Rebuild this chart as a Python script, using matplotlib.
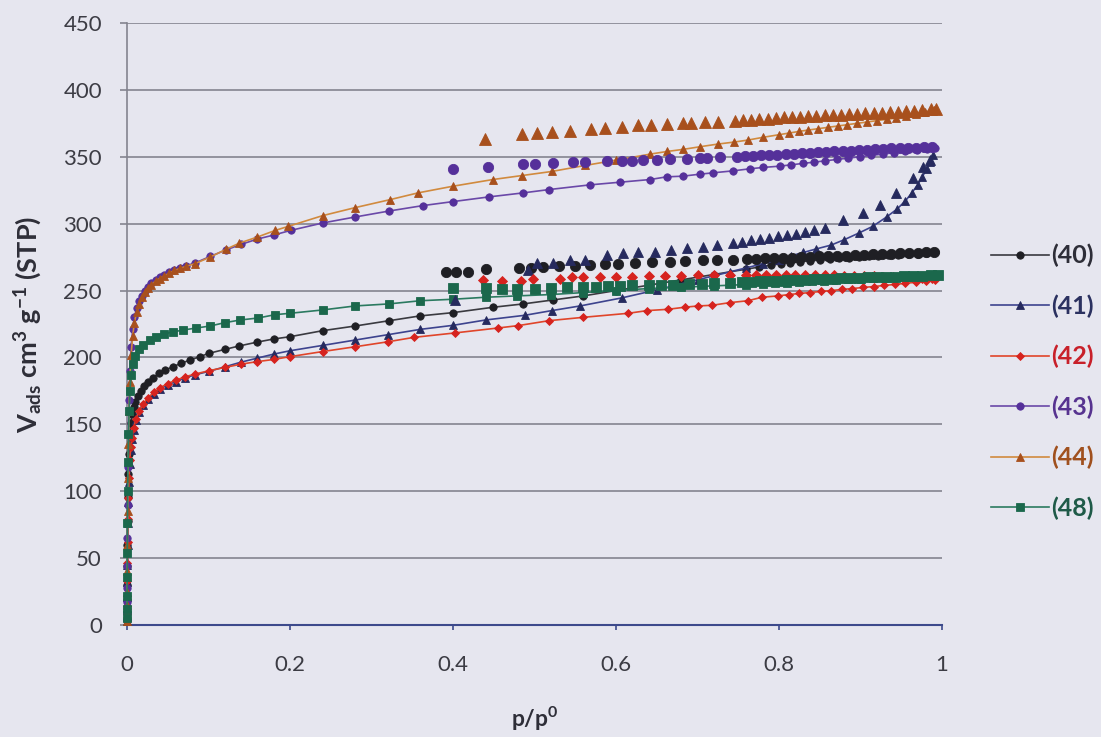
import matplotlib
matplotlib.use("Agg")
import matplotlib.pyplot as plt

plt.rcParams['font.family'] = ['Lato', 'DejaVu Sans']
plt.rcParams['mathtext.fontset'] = 'custom'
plt.rcParams['mathtext.rm'] = 'Lato:bold'
plt.rcParams['mathtext.it'] = 'Lato:bold'
plt.rcParams['mathtext.bf'] = 'Lato:bold'

# ---- N2 isotherms: relative pressure p/p0 and adsorbed volume (cm3 g-1 STP) ----
labels = ['(40)', '(41)', '(42)', '(43)', '(44)', '(48)']

# (40) adsorption / desorption
p40_ads = [0.00003, 0.00008, 0.00015, 0.00025, 0.0004, 0.0006, 0.0009, 0.0013, 0.0018, 0.0025,
           0.0034, 0.0046, 0.006, 0.008, 0.010, 0.013, 0.017, 0.021, 0.026, 0.032,
           0.039, 0.047, 0.056, 0.066, 0.077, 0.089, 0.100, 0.120, 0.137, 0.160,
           0.180, 0.200, 0.240, 0.280, 0.322, 0.359, 0.400, 0.449, 0.486, 0.523,
           0.560, 0.600, 0.640, 0.680, 0.720, 0.760, 0.775, 0.790, 0.802, 0.814,
           0.826, 0.838, 0.850, 0.862, 0.874, 0.886, 0.898, 0.910, 0.922, 0.934,
           0.946, 0.958, 0.970, 0.981, 0.991]
v40_ads = [4, 10, 19, 30, 44, 60, 78, 96, 113, 128,
           141, 151, 158, 163, 167, 171, 175, 178.5, 182, 185,
           188, 190.5, 193, 195.5, 198, 200.5, 203, 206, 208.5, 211.5,
           213.8, 215.5, 220, 223.5, 227.5, 231, 233.5, 237.5, 240, 243,
           246, 250, 254, 258, 262, 266, 267.5, 269, 270, 270.8,
           271.5, 272.2, 272.8, 273.4, 274, 274.5, 275, 275.5, 276, 276.4,
           276.8, 277.2, 277.6, 278, 278.5]
p40_des = [0.392, 0.404, 0.419, 0.441, 0.481, 0.496, 0.510, 0.530, 0.550, 0.568,
           0.587, 0.602, 0.623, 0.644, 0.666, 0.685, 0.707, 0.724, 0.744, 0.761,
           0.772, 0.783, 0.794, 0.805, 0.816, 0.827, 0.838, 0.849, 0.860, 0.871,
           0.882, 0.893, 0.904, 0.915, 0.926, 0.937, 0.948, 0.959, 0.970, 0.980, 0.990]
v40_des = [263.5, 263.5, 264, 266, 267, 267, 267.5, 268, 268.5, 269,
           270, 270, 270.5, 271, 271.5, 272, 272.5, 272.5, 273, 273.5,
           273.7, 274, 274.2, 274.5, 274.7, 275, 275.2, 275.5, 275.7, 276,
           276.2, 276.5, 276.7, 277, 277.2, 277.5, 277.7, 278, 278.3, 278.6, 279]

# (41)
p41_ads = [0.00003, 0.00008, 0.00015, 0.00025, 0.0004, 0.0006, 0.0009, 0.0013, 0.0018, 0.0025,
           0.0034, 0.0046, 0.006, 0.008, 0.011, 0.015, 0.020, 0.026, 0.033, 0.041,
           0.050, 0.060, 0.071, 0.083, 0.100, 0.120, 0.140, 0.160, 0.180, 0.200,
           0.240, 0.280, 0.320, 0.360, 0.400, 0.440, 0.488, 0.521, 0.556, 0.607,
           0.650, 0.700, 0.740, 0.760, 0.780, 0.800, 0.815, 0.830, 0.845, 0.864,
           0.880, 0.898, 0.915, 0.932, 0.945, 0.955, 0.963, 0.970, 0.976, 0.981,
           0.985, 0.989]
v41_ads = [3, 7, 13, 21, 32, 45, 60, 76, 92, 107,
           120, 131, 139, 146, 153, 159, 164.5, 169, 173, 176.5,
           179.5, 182, 184.5, 187, 189.5, 193, 196.5, 199.5, 202.5, 205,
           209, 213, 217, 221, 224, 228, 231.5, 235, 238.5, 244.5,
           250.5, 258, 264, 267, 270, 273, 276, 278.5, 281, 284,
           288, 293, 298, 305, 311, 317, 323, 329, 335, 341,
           346, 351]
p41_des = [0.403, 0.492, 0.503, 0.523, 0.544, 0.562, 0.589, 0.609, 0.627, 0.648,
           0.668, 0.687, 0.707, 0.724, 0.744, 0.755, 0.766, 0.777, 0.788, 0.799,
           0.810, 0.821, 0.832, 0.843, 0.856, 0.879, 0.903, 0.924, 0.944, 0.965,
           0.977, 0.985]
v41_des = [243, 265.5, 270.5, 270.5, 272.5, 273, 276.5, 278, 278.5, 279,
           280, 281.5, 282.5, 284, 285.5, 286.5, 287.5, 288.5, 289.5, 290.5,
           291.5, 292.5, 293.5, 295, 297, 303, 308, 314, 323, 334,
           342.5, 347.5]

# (42)
p42_ads = [0.00003, 0.00008, 0.00015, 0.00025, 0.0004, 0.0006, 0.0009, 0.0013, 0.0018, 0.0025,
           0.0034, 0.0046, 0.006, 0.008, 0.011, 0.015, 0.020, 0.026, 0.033, 0.041,
           0.050, 0.060, 0.071, 0.083, 0.100, 0.120, 0.140, 0.159, 0.180, 0.200,
           0.240, 0.280, 0.320, 0.352, 0.402, 0.455, 0.480, 0.518, 0.560, 0.615,
           0.638, 0.664, 0.685, 0.701, 0.718, 0.740, 0.762, 0.779, 0.799, 0.812,
           0.825, 0.838, 0.851, 0.864, 0.877, 0.890, 0.903, 0.916, 0.929, 0.942,
           0.955, 0.968, 0.980, 0.991]
v42_ads = [3, 8, 14, 22, 33, 46, 62, 79, 95, 110,
           123, 133, 140, 147, 154, 160, 165.5, 170, 174, 177.5,
           180.5, 183, 185.5, 187.5, 190, 192.5, 195, 196.8, 198.5, 200.6,
           204.4, 208, 211.7, 215, 218.3, 222, 223.8, 227.5, 230, 233,
           235, 236, 237.6, 238.5, 239, 241, 242.4, 245, 246, 247,
           247.8, 248.5, 249.3, 250, 250.8, 251.5, 252.3, 253, 253.8, 254.6,
           255.4, 256.2, 257, 258]
p42_des = [0.437, 0.460, 0.484, 0.498, 0.531, 0.546, 0.560, 0.580, 0.600, 0.620,
           0.640, 0.660, 0.680, 0.700, 0.720, 0.740, 0.760, 0.772, 0.784, 0.796,
           0.808, 0.820, 0.832, 0.844, 0.856, 0.868, 0.880, 0.892, 0.904, 0.916,
           0.928, 0.940, 0.952, 0.964, 0.976, 0.988]
v42_des = [258, 257, 257, 258.5, 258.5, 260, 260, 260, 260.5, 260.5,
           261, 261, 261, 261.5, 261.5, 262, 262, 262, 262, 262,
           262, 262, 262, 261.8, 261.6, 261.4, 261.2, 261, 260.8, 260.6,
           260.4, 260.2, 260, 259.8, 259.6, 259.4]

# (43)
p43_ads = [0.00002, 0.00005, 0.0001, 0.0002, 0.0003, 0.0005, 0.0008, 0.0012, 0.0017, 0.0025,
           0.0035, 0.005, 0.007, 0.009, 0.012, 0.015, 0.018, 0.022, 0.026, 0.030,
           0.035, 0.040, 0.046, 0.052, 0.058, 0.065, 0.072, 0.083, 0.102, 0.122,
           0.140, 0.160, 0.180, 0.201, 0.240, 0.280, 0.322, 0.363, 0.400, 0.444,
           0.486, 0.518, 0.568, 0.605, 0.642, 0.662, 0.682, 0.703, 0.719, 0.744,
           0.764, 0.780, 0.801, 0.815, 0.829, 0.843, 0.857, 0.871, 0.885, 0.899,
           0.913, 0.927, 0.941, 0.955, 0.969, 0.981, 0.991]
v43_ads = [4, 9, 17, 28, 44, 65, 90, 118, 143, 168,
           190, 208, 221, 230, 237, 242, 246, 250, 253, 255.5,
           258, 260, 262, 264, 265.5, 267, 268.5, 270.5, 275.5, 280.5,
           284.5, 288.5, 291.5, 295, 300.5, 305, 309.5, 313.5, 316.5, 320,
           323, 325.5, 329, 331, 333, 335, 335.5, 337, 338, 339.5,
           341, 342, 343, 344, 345, 346, 347, 348, 349, 350,
           351, 352, 353, 354, 355, 355.5, 356.5]
p43_des = [0.400, 0.443, 0.486, 0.500, 0.523, 0.547, 0.562, 0.589, 0.607, 0.620,
           0.633, 0.650, 0.666, 0.687, 0.703, 0.712, 0.728, 0.748, 0.758, 0.768,
           0.778, 0.788, 0.798, 0.808, 0.818, 0.828, 0.838, 0.848, 0.858, 0.868,
           0.878, 0.888, 0.898, 0.908, 0.918, 0.928, 0.938, 0.948, 0.958, 0.968,
           0.978, 0.988]
v43_des = [340.5, 342.5, 344.5, 344.5, 345, 346, 346, 346.5, 347, 347,
           347.5, 347.5, 348, 348, 349, 349, 350, 350, 350.3, 350.6,
           351, 351.3, 351.6, 352, 352.3, 352.6, 353, 353.3, 353.6, 354,
           354.3, 354.6, 355, 355.3, 355.6, 356, 356.2, 356.4, 356.6, 356.8,
           357, 357.3]

# (44)
p44_ads = [0.00002, 0.00005, 0.0001, 0.0002, 0.0003, 0.0005, 0.0008, 0.0012, 0.0017, 0.0025,
           0.0035, 0.005, 0.007, 0.009, 0.012, 0.015, 0.018, 0.022, 0.026, 0.030,
           0.035, 0.040, 0.046, 0.052, 0.058, 0.065, 0.072, 0.083, 0.102, 0.122,
           0.138, 0.160, 0.182, 0.198, 0.240, 0.280, 0.323, 0.357, 0.400, 0.449,
           0.485, 0.521, 0.562, 0.600, 0.642, 0.663, 0.682, 0.703, 0.725, 0.745,
           0.762, 0.780, 0.800, 0.812, 0.824, 0.836, 0.848, 0.860, 0.872, 0.884,
           0.896, 0.908, 0.920, 0.932, 0.944, 0.956, 0.968, 0.979, 0.990]
v44_ads = [3, 8, 15, 25, 40, 60, 85, 110, 135, 160,
           182, 202, 216, 226, 234, 240, 245, 249, 252, 254.5,
           257, 259, 261, 263, 265, 266.5, 268, 270, 275, 281,
           285.5, 290, 295, 298, 306, 312, 318, 323, 328, 333,
           336, 339, 343.5, 347.5, 352, 354, 355.5, 357.5, 359.5, 361,
           362.5, 364.5, 366.5, 367.7, 368.9, 370, 371, 372, 373, 374,
           375, 376, 377, 378, 379, 380.5, 382, 383.5, 385]
p44_des = [0.439, 0.485, 0.503, 0.522, 0.544, 0.569, 0.587, 0.607, 0.627, 0.643,
           0.663, 0.682, 0.692, 0.709, 0.725, 0.746, 0.756, 0.766, 0.776, 0.786,
           0.796, 0.806, 0.816, 0.826, 0.836, 0.846, 0.856, 0.866, 0.876, 0.886,
           0.896, 0.906, 0.916, 0.926, 0.936, 0.946, 0.956, 0.966, 0.976, 0.986, 0.993]
v44_des = [363, 367, 367.5, 368.5, 369, 370.5, 371.5, 372.5, 374, 374,
           374.5, 375.5, 375.5, 376, 376, 377, 377.4, 377.8, 378.2, 378.6,
           379, 379.4, 379.7, 380, 380.3, 380.6, 380.9, 381.2, 381.5, 381.8,
           382.1, 382.4, 382.7, 383, 383.3, 383.6, 384, 384.4, 384.9, 385.5, 386]

# (48)
p48_ads = [0.00002, 0.00005, 0.0001, 0.0002, 0.0003, 0.0005, 0.0008, 0.0012, 0.0018, 0.0026,
           0.0036, 0.005, 0.007, 0.010, 0.015, 0.020, 0.028, 0.036, 0.045, 0.056,
           0.069, 0.085, 0.102, 0.120, 0.139, 0.161, 0.182, 0.200, 0.240, 0.280,
           0.321, 0.360, 0.400, 0.440, 0.478, 0.520, 0.560, 0.600, 0.640, 0.680,
           0.720, 0.760, 0.780, 0.795, 0.810, 0.825, 0.840, 0.855, 0.870, 0.885,
           0.900, 0.915, 0.930, 0.945, 0.960, 0.975, 0.990]
v48_ads = [5, 12, 22, 36, 54, 76, 100, 122, 143, 160,
           175, 187, 195, 201, 206, 209.5, 213, 215.5, 217.5, 219,
           220.5, 222, 223.5, 226, 228, 229.5, 232, 233, 235.5, 238.5,
           240, 242.4, 243.5, 245, 246, 247, 248.5, 250, 251.5, 252.5,
           253.5, 254.5, 255, 255.5, 256, 256.5, 257, 257.5, 258, 258.5,
           259, 259.3, 259.6, 260, 260.3, 260.6, 261]
p48_des = [0.400, 0.440, 0.460, 0.478, 0.500, 0.520, 0.540, 0.560, 0.575, 0.590,
           0.605, 0.620, 0.640, 0.655, 0.670, 0.690, 0.705, 0.720, 0.740, 0.755,
           0.766, 0.777, 0.788, 0.799, 0.810, 0.821, 0.832, 0.843, 0.854, 0.865,
           0.876, 0.887, 0.898, 0.909, 0.920, 0.931, 0.942, 0.953, 0.964, 0.975,
           0.986, 0.995]
v48_des = [252, 252, 251.5, 251, 251.5, 252, 252.5, 253, 253, 253.5,
           253.5, 254, 254, 254.5, 254.5, 255, 255, 255.5, 256, 256.3,
           256.6, 256.9, 257.2, 257.5, 257.8, 258, 258.2, 258.5, 258.7, 259,
           259.2, 259.4, 259.6, 259.8, 260, 260.2, 260.4, 260.6, 260.8, 261,
           261.3, 261.6]

ads_sets = [(p40_ads, v40_ads), (p41_ads, v41_ads), (p42_ads, v42_ads),
            (p43_ads, v43_ads), (p44_ads, v44_ads), (p48_ads, v48_ads)]
des_sets = [(p40_des, v40_des), (p41_des, v41_des), (p42_des, v42_des),
            (p43_des, v43_des), (p44_des, v44_des), (p48_des, v48_des)]

# ---- styling ----
bg = '#e6e6ef'
line_colors = ['#3a3a40', '#3d438e', '#e0452a', '#6a48a8', '#d18a3e', '#2b7a60']
marker_colors = ['#1f1f24', '#262a5e', '#d6231f', '#55309a', '#a8501d', '#1b684c']
text_colors = ['#2e2e38', '#2b3160', '#c8202a', '#573390', '#a0501e', '#1f5a48']
markers = ['o', '^', 'D', 'o', '^', 's']
ads_ms = [5.3, 6.0, 3.6, 5.3, 6.2, 5.2]
des_ms = [7.4, 7.8, 4.6, 7.4, 8.0, 7.2]

fig = plt.figure(figsize=(11.01, 7.37), dpi=100, facecolor=bg)
ax = fig.add_axes([127 / 1101, 1 - 625 / 737, 815 / 1101, 602 / 737])
ax.set_facecolor(bg)

handles = []
for (p, v), lc, mc, mk, ms in zip(ads_sets, line_colors, marker_colors, markers, ads_ms):
    h, = ax.plot(p, v, color=lc, lw=1.2, marker=mk, ms=ms,
                 markerfacecolor=mc, markeredgecolor=mc, markeredgewidth=0.6,
                 clip_on=False, zorder=3)
    handles.append(h)

for (p, v), mc, mk, ms in zip(des_sets, marker_colors, markers, des_ms):
    ax.plot(p, v, ls='none', marker=mk, ms=ms,
            markerfacecolor=mc, markeredgecolor=mc, markeredgewidth=0.6,
            clip_on=False, zorder=4)

ax.set_xlim(0, 1)
ax.set_ylim(0, 450)
ax.set_xticks([0, 0.2, 0.4, 0.6, 0.8, 1.0])
ax.set_xticklabels(['0', '0.2', '0.4', '0.6', '0.8', '1'])
ax.set_yticks(range(0, 451, 50))

grid_c = '#84848f'
ax.yaxis.grid(True, color=grid_c, lw=1.2)
ax.xaxis.grid(False)
ax.set_axisbelow(True)
for s in ('top', 'right'):
    ax.spines[s].set_visible(False)
ax.spines['left'].set_color(grid_c)
ax.spines['left'].set_linewidth(1.2)
ax.spines['bottom'].set_color('#3d4a8c')
ax.spines['bottom'].set_linewidth(1.5)
ax.spines['bottom'].set_zorder(2)

ax.tick_params(axis='y', colors=grid_c, length=5, width=1.2, pad=13,
               labelsize=16, labelcolor='#3c3c44')
ax.tick_params(axis='x', colors='#3d4a8c', length=3.5, width=1.2, pad=18,
               labelsize=16, labelcolor='#3c3c44')

ax.set_xlabel(r'p/p$^{0}$', fontsize=16.5, fontweight='bold', color='#2e2e38')
ax.xaxis.set_label_coords(0.5, -0.132)
ax.set_ylabel(r'V$_{\mathrm{ads}}$ cm$^{3}$ g$^{-1}$ (STP)', fontsize=19.5,
              fontweight='bold', color='#2e2e38')
ax.yaxis.set_label_coords(-0.102, 0.5)

leg = fig.legend(handles, labels, loc='center left',
                 bbox_to_anchor=(991 / 1101, 1 - 382 / 737),
                 frameon=False, numpoints=1, handlelength=2.3,
                 handletextpad=0.1, labelspacing=1.08, borderpad=0,
                 borderaxespad=0, prop={'weight': 'bold', 'size': 18})
for t, c in zip(leg.get_texts(), text_colors):
    t.set_color(c)

fig.savefig('out.png', dpi=100, facecolor=bg)
